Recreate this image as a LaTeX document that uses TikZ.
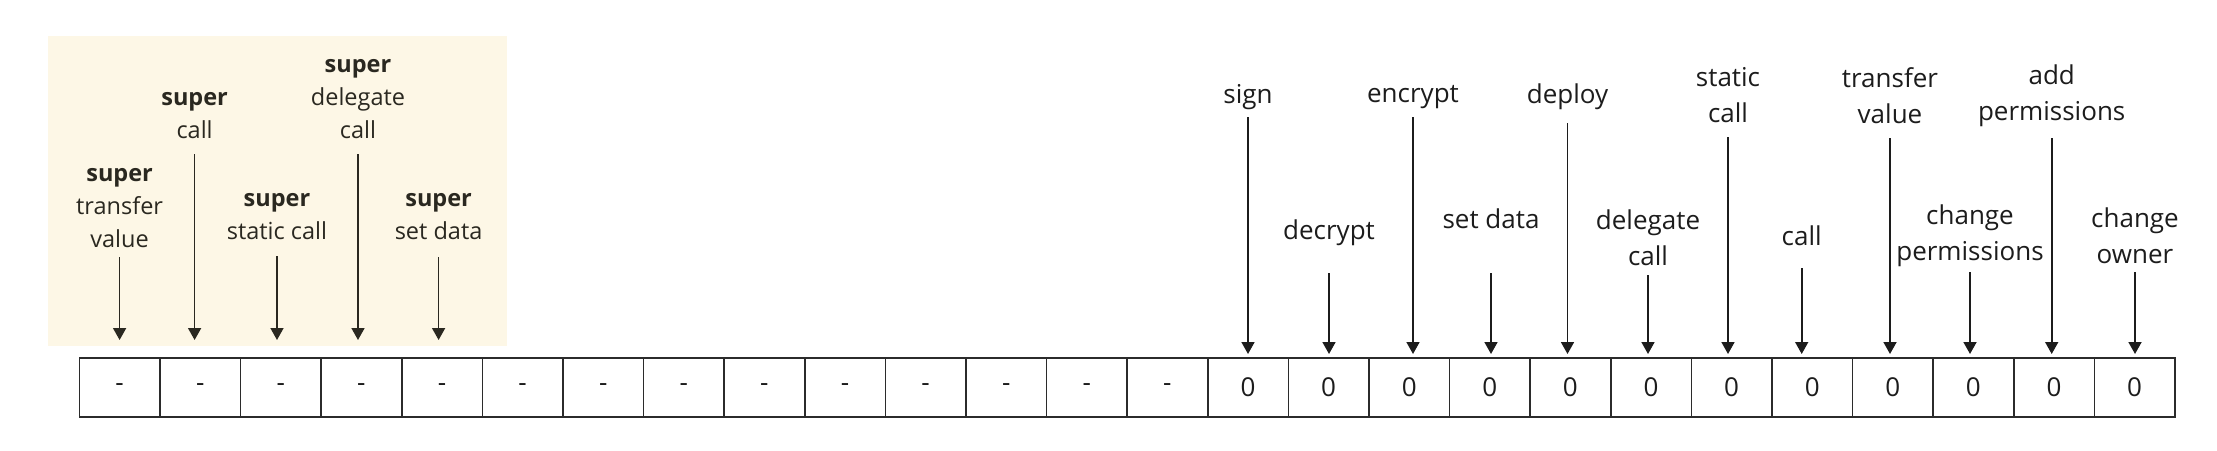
\documentclass[tikz,border=0pt]{standalone}
\usepackage{fontspec}
\setmainfont{Open Sans}
\usetikzlibrary{arrows.meta}
\definecolor{cream}{HTML}{FDF7E6}
\definecolor{ink}{HTML}{1C1C1C}
\definecolor{brownink}{HTML}{2A2820}
\definecolor{grid}{HTML}{2B2B2B}

\begin{document}
\begin{tikzpicture}[
  x=0.5pt, y=-0.5pt,
  cell/.style={draw=grid, line width=0.8pt, minimum width=40.3pt, minimum height=29.4pt, inner sep=0pt, outer sep=0pt, font=\fontsize{13}{16}\selectfont, text=ink},
  lbl/.style={align=center, inner sep=0pt, font=\fontsize{13}{18}\selectfont, text=ink},
  superlbl/.style={lbl, font=\fontsize{11.75}{16.5}\selectfont, text=brownink},
  arr/.style={-{Triangle[width=6.5pt,length=6pt]}, line width=0.85pt, draw=ink, shorten >=2pt},
  superarr/.style={arr, draw=brownink, shorten >=9pt}
]
\useasboundingbox (0,0) rectangle (2217,450);

% super calls region
\fill[cream] (48,36) rectangle (507,346);

% permission slots
\foreach \i in {1,...,26}
  \node[cell] (c\i) at ({79.3+(\i-0.5)*80.6}, 387.4) {\ifnum\i<15 -\else 0\fi};

\node[superlbl] (stv) at (119.6,208) {\textbf{super}\\transfer\\value};
\node[superlbl] (scall) at (194.6,115.5) {\textbf{super}\\call};
\node[superlbl] (sstatic) at (277,216.5) {\textbf{super}\\static call};
\node[superlbl] (sdeleg) at (358,99) {\textbf{super}\\delegate\\call};
\node[superlbl] (sset) at (438.6,216.5) {\textbf{super}\\set data};

\node[lbl] (sign) at (1248,97) {sign};
\node[lbl] (decrypt) at (1329,233) {decrypt};
\node[lbl] (encrypt) at (1413,97) {encrypt};
\node[lbl] (setdata) at (1491,219) {set data};
\node[lbl] (deploy) at (1567.5,97) {deploy};
\node[lbl] (delegate) at (1648,237.5) {delegate\\call};
\node[lbl] (static) at (1728,95.5) {static\\call};
\node[lbl] (call) at (1801.7,236) {call};
\node[lbl] (transfer) at (1890,95.5) {transfer\\value};
\node[lbl] (chperm) at (1970,236) {change\\permissions};
\node[lbl] (addperm) at (2051.7,95.5) {add\\permissions};
\node[lbl] (chowner) at (2135,236) {change\\owner};

\foreach \lab/\cl/\ys in {stv/1/257, scall/2/154, sstatic/3/256, sdeleg/4/154, sset/5/257}
  \draw[superarr] (\lab.south |- 0,\ys) -- (\lab.south |- c\cl.north);

\foreach \lab/\cl/\ys in {sign/15/117, decrypt/16/273, encrypt/17/117, setdata/18/273,
    deploy/19/123, delegate/20/275, static/21/137, call/22/268, transfer/23/138,
    chperm/24/272, addperm/25/138, chowner/26/272}
  \draw[arr] (\lab.south |- 0,\ys) -- (\lab.south |- c\cl.north);
\end{tikzpicture}
\end{document}
